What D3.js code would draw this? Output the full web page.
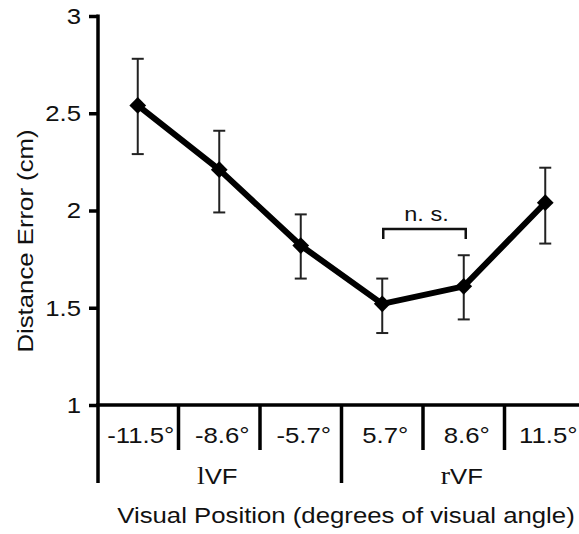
<!DOCTYPE html>
<meta charset="utf-8">
<html>
<head>
  <script src="https://d3js.org/d3.v7.min.js"></script>
  <style>
    body { margin: 0; background: #fff; }
    text { font-family: "Liberation Sans", Arial, sans-serif; fill: #111; }
  </style>
</head>
<body>
<div id="chart"></div>
<script>
// data
var positions = ["-11.5°", "-8.6°", "-5.7°", "5.7°", "8.6°", "11.5°"];
var meanError = [2.54, 2.21, 1.82, 1.52, 1.61, 2.04];
var upperError = [2.78, 2.41, 1.98, 1.65, 1.77, 2.22];
var lowerError = [2.29, 1.99, 1.65, 1.37, 1.44, 1.83];
var yTicks = [1, 1.5, 2, 2.5, 3];
var fields = [{name: "l", cat: "-8.6°"}, {name: "r", cat: "8.6°"}];

var W = 579, H = 534;
var FS = 23, SX = 1.12; // the figure's lettering is a bit wide

// widen a text horizontally around its own x
function stretch(sel) {
  sel.attr("transform", function() {
    var x0 = +d3.select(this).attr("x") || 0;
    return "translate(" + x0 + ",0) scale(" + SX + ",1) translate(" + (-x0) + ",0)";
  });
}

var svg = d3.select("#chart")
  .append("svg")
    .attr("width", W)
    .attr("height", H);

var x = d3.scaleBand()
  .domain(positions)
  .range([97, 586])
  .padding(0);

var y = d3.scaleLinear()
  .domain([1, 3])
  .range([405, 16]);

// y axis
var yAxis = svg.append("g")
  .attr("transform", "translate(98,0)")
  .call(d3.axisLeft(y).tickValues(yTicks).tickSize(9).tickPadding(8)
    .tickFormat(function(d) { return d3.format("")(d); }));
yAxis.select(".domain").remove();
yAxis.selectAll(".tick line").attr("stroke", "#000").attr("stroke-width", 3.5);
yAxis.selectAll(".tick text").attr("font-size", FS).attr("fill", "#111").call(stretch);
svg.append("line")
  .attr("x1", 98).attr("x2", 98)
  .attr("y1", y(3) - 1.5).attr("y2", 483)
  .attr("stroke", "#000").attr("stroke-width", 3.5);

// x axis
var xAxis = svg.append("g")
  .attr("transform", "translate(0,405)")
  .call(d3.axisBottom(x).tickSize(0).tickPadding(22));
xAxis.select(".domain").remove();
xAxis.selectAll(".tick text").attr("font-size", FS).attr("fill", "#111").attr("x", 3).call(stretch);
svg.append("line")
  .attr("x1", 96).attr("x2", W)
  .attr("y1", 405).attr("y2", 405)
  .attr("stroke", "#000").attr("stroke-width", 3.5);

// separators between categories; the middle one splits lVF / rVF
svg.selectAll("line.sep")
  .data(positions.slice(0, -1))
  .enter()
  .append("line")
  .attr("class", "sep")
  .attr("x1", function(d) { return x(d) + x.bandwidth(); })
  .attr("x2", function(d) { return x(d) + x.bandwidth(); })
  .attr("y1", 405)
  .attr("y2", function(d, i) { return i === 2 ? 483 : 450; })
  .attr("stroke", "#000")
  .attr("stroke-width", 3.5);

// visual field labels
var fl = svg.selectAll("text.field")
  .data(fields)
  .enter()
  .append("text")
  .attr("class", "field")
  .attr("x", function(d) { return x(d.cat) + x.bandwidth() / 2 - 2; })
  .attr("y", 484)
  .attr("text-anchor", "middle")
  .attr("font-size", FS);
fl.append("tspan")
  .style("font-family", "'Liberation Serif', 'Times New Roman', serif")
  .attr("font-size", 25)
  .text(function(d) { return d.name; });
fl.append("tspan").text("VF");
fl.call(stretch);

// axis titles
svg.append("text")
  .attr("x", 346)
  .attr("y", 523)
  .attr("text-anchor", "middle")
  .attr("font-size", FS)
  .text("Visual Position (degrees of visual angle)")
  .call(stretch);

svg.append("text")
  .attr("transform", "translate(33,241) rotate(-90) scale(" + SX + ",1)")
  .attr("text-anchor", "middle")
  .attr("font-size", FS)
  .text("Distance Error (cm)");

// error bars
var pts = positions.map(function(p, i) {
  return {cat: p, v: meanError[i], hi: upperError[i], lo: lowerError[i]};
});
var cx = function(d) { return x(d.cat) + x.bandwidth() / 2; };

var eb = svg.selectAll("g.err")
  .data(pts)
  .enter()
  .append("g")
  .attr("class", "err")
  .attr("stroke", "#222")
  .attr("stroke-width", 2);
eb.append("line")
  .attr("x1", cx).attr("x2", cx)
  .attr("y1", function(d) { return y(d.hi); })
  .attr("y2", function(d) { return y(d.lo); });
eb.append("line")
  .attr("x1", function(d) { return cx(d) - 6; })
  .attr("x2", function(d) { return cx(d) + 6; })
  .attr("y1", function(d) { return y(d.hi); })
  .attr("y2", function(d) { return y(d.hi); });
eb.append("line")
  .attr("x1", function(d) { return cx(d) - 6; })
  .attr("x2", function(d) { return cx(d) + 6; })
  .attr("y1", function(d) { return y(d.lo); })
  .attr("y2", function(d) { return y(d.lo); });

// mean line
svg.append("path")
  .datum(pts)
  .attr("fill", "none")
  .attr("stroke", "#000")
  .attr("stroke-width", 6)
  .attr("stroke-linejoin", "round")
  .attr("d", d3.line().x(cx).y(function(d) { return y(d.v); }));

// diamond markers
svg.selectAll("path.mark")
  .data(pts)
  .enter()
  .append("path")
  .attr("class", "mark")
  .attr("d", d3.symbol().type(d3.symbolSquare).size(140))
  .attr("transform", function(d) { return "translate(" + cx(d) + "," + y(d.v) + ") rotate(45)"; })
  .attr("fill", "#000");

// n.s. bracket between 5.7 and 8.6
var bx1 = cx(pts[3]) + 1, bx2 = cx(pts[4]) + 2;
svg.append("path")
  .attr("d", "M" + bx1 + ",239V229H" + bx2 + "V239")
  .attr("fill", "none")
  .attr("stroke", "#111")
  .attr("stroke-width", 2.5);
svg.append("text")
  .attr("x", (bx1 + bx2) / 2 + 2)
  .attr("y", 221)
  .attr("text-anchor", "middle")
  .attr("font-size", 21)
  .text("n. s.")
  .call(stretch);
</script>
</body>
</html>
